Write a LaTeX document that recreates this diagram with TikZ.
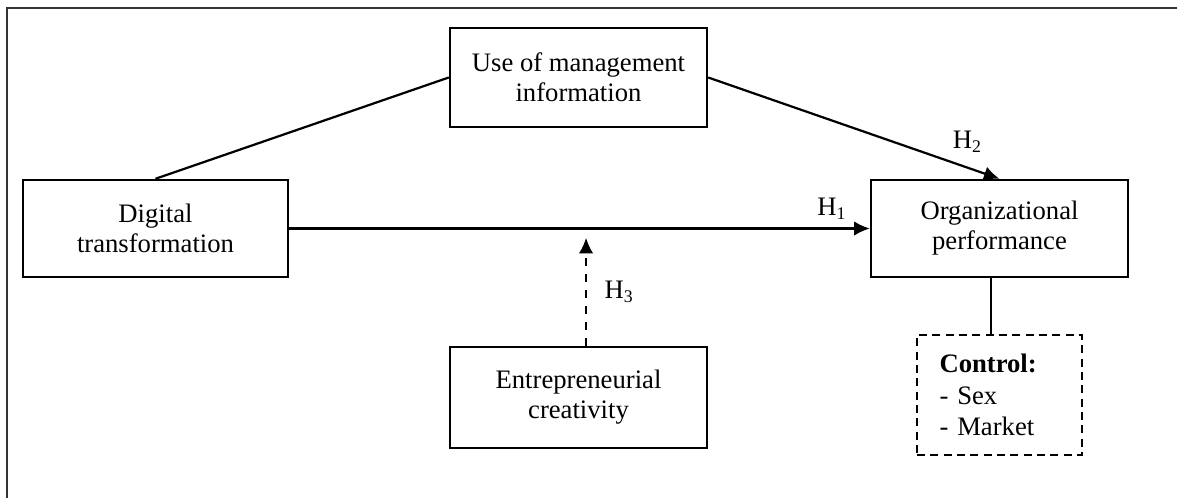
\documentclass[tikz,border=0pt]{standalone}
\usepackage{fontspec}
\setmainfont{Liberation Serif}
\usetikzlibrary{positioning,arrows.meta}

\tikzset{
  box/.style={draw,line width=1.1pt,minimum width=115.65pt,minimum height=44.55pt,
    align=center,inner sep=2pt,font=\fontsize{12}{13.5}\selectfont},
  ctrlbox/.style={draw,line width=0.9pt,dash pattern=on 3.6pt off 2.4pt,
    minimum width=74.25pt,minimum height=54pt,text width=54pt,inner xsep=10pt,
    align=left,font=\fontsize{12}{14}\selectfont},
  hyp/.style={font=\fontsize{12}{14}\selectfont},
  link/.style={line width=1pt},
  frame/.style={line width=1.2pt,draw=black!80}
}

\begin{document}
\begin{tikzpicture}[x=0.45pt,y=-0.45pt,on grid,>={Latex[length=7pt,width=6.5pt]}]
  \useasboundingbox (0,0) rectangle (1177,498);
  \begin{scope}
    \clip (0,0) rectangle (1177,498);
    \draw[frame] (7,520) |- (1200,8);
  \end{scope}
  \node[box,minimum width=119.25pt,minimum height=43.65pt] (dt) at (155.5,228.5) {Digital\\transformation};
  \node[box,minimum height=43.65pt] (op) [right=379.8pt of dt] {Organizational\\performance};
  \node[box] (umi) [above right=67.95pt and 190.35pt of dt] {Use of management\\information};
  \node[box,minimum height=45.45pt] (ec) [below=144pt of umi] {Entrepreneurial\\creativity};
  \node[ctrlbox] (ctrl) [below=74.9pt of op] {\textbf{Control:}\\- Sex\\- Market};
  \coordinate (h3tip) at ([xshift=3.4pt,yshift=48.6pt]ec.north);
  \draw[link] (dt.north) -- (umi.west);
  \draw[link,->] (umi.east) -- node[pos=0.89,above=3pt,hyp] {H\textsubscript{2}} (op.north);
  \draw[link,->] (dt.east) -- node[pos=0.935,above,hyp] {H\textsubscript{1}} (op.west);
  \draw[link,->,dash pattern=on 3.6pt off 3.6pt] ([xshift=3.4pt]ec.north) -- node[midway,right=4.5pt,hyp] {H\textsubscript{3}} (h3tip);
  \draw[link] ([xshift=-3.8pt]ctrl.north) -- ([xshift=-3.8pt]ctrl.north |- op.south);
\end{tikzpicture}
\end{document}
